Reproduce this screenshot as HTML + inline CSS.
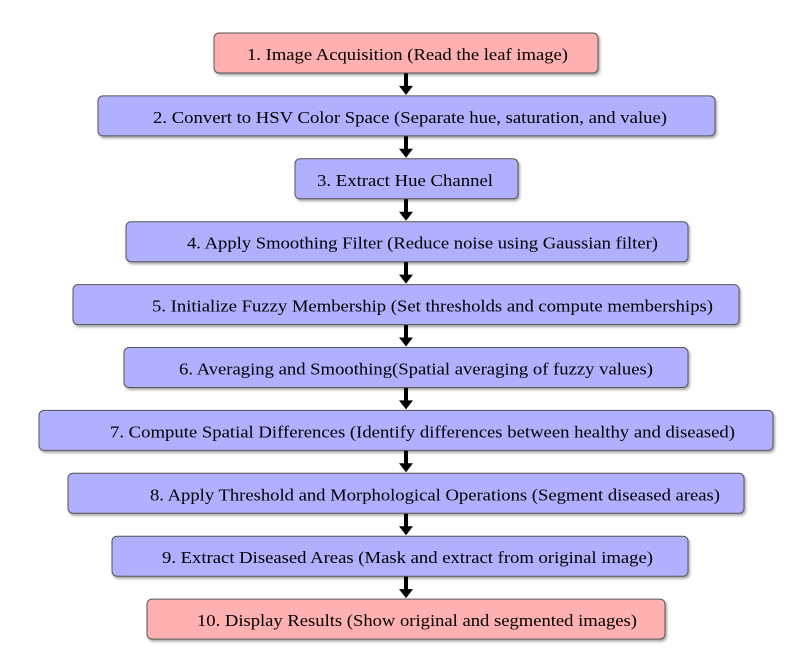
<!DOCTYPE html>
<html><head><meta charset="utf-8"><style>
body{margin:0;background:#fff;width:802px;height:657px;overflow:hidden}
svg{display:block}
svg text{font-family:'Liberation Serif','Times New Roman',Times,serif;font-size:17px;fill:#000}
</style></head><body>
<svg width="802" height="657">
<defs>
<filter id="sh" x="-5%" y="-20%" width="110%" height="150%"><feDropShadow dx="1.5" dy="2" stdDeviation="1.2" flood-color="#000" flood-opacity="0.35"/></filter>
</defs>
<g id="g"></g>
</svg>
<script>
const labels=["1. Image Acquisition (Read the leaf image)","2. Convert to HSV Color Space (Separate hue, saturation, and value)","3. Extract Hue Channel","4. Apply Smoothing Filter (Reduce noise using Gaussian filter)","5. Initialize Fuzzy Membership (Set thresholds and compute memberships)","6. Averaging and Smoothing(Spatial averaging of fuzzy values)","7. Compute Spatial Differences (Identify differences between healthy and diseased)","8. Apply Threshold and Morphological Operations (Segment diseased areas)","9. Extract Diseased Areas (Mask and extract from original image)","10. Display Results (Show original and segmented images)"];
const boxes=[[214,598],[98,715],[295,518],[126,688],[73,739],[124,688],[39,773],[68,744],[112,688],[147,665]];
const textSpan=[[247,568],[153,667],[317,493],[187,658],[152,713],[179,653],[110,735],[150,720],[162,653],[197,637]];
const g=document.getElementById('g');const NS='http://www.w3.org/2000/svg';
const top0=33,step=62.9,h=40;
for(let i=0;i<labels.length;i++){
 const y=top0+i*step;
 if(i<labels.length-1){
  const ar=document.createElementNS(NS,'g');
  
  
  const y1=y+h, y2=y+step;
  ar.innerHTML=`<line x1="406" y1="${y1}" x2="406" y2="${y2-8}" stroke="#000" stroke-width="4"/><polygon points="399,${y2-10} 413,${y2-10} 406,${y2-1}" fill="#000"/>`;
  g.appendChild(ar);
 }
 const b=boxes[i];
 const r=document.createElementNS(NS,'rect');
 
 
 r.setAttribute('x',b[0]);r.setAttribute('y',y);r.setAttribute('width',b[1]-b[0]);r.setAttribute('height',h);
 r.setAttribute('rx',5);r.setAttribute('fill',(i==0||i==9)?'#ffb0b0':'#b0b0ff');
 r.setAttribute('stroke','#555');r.setAttribute('stroke-width','1');r.setAttribute('filter','url(#sh)');
 g.appendChild(r);
 const t=document.createElementNS(NS,'text');
 
 
 const s=textSpan[i];
 t.setAttribute('font-family','Liberation Serif, serif');
 t.setAttribute('x',s[0]);t.setAttribute('y',y+27);
 t.setAttribute('textLength',s[1]-s[0]);t.setAttribute('lengthAdjust','spacingAndGlyphs');
 t.textContent=labels[i];
 g.appendChild(t);
}
</script>
</body></html>
